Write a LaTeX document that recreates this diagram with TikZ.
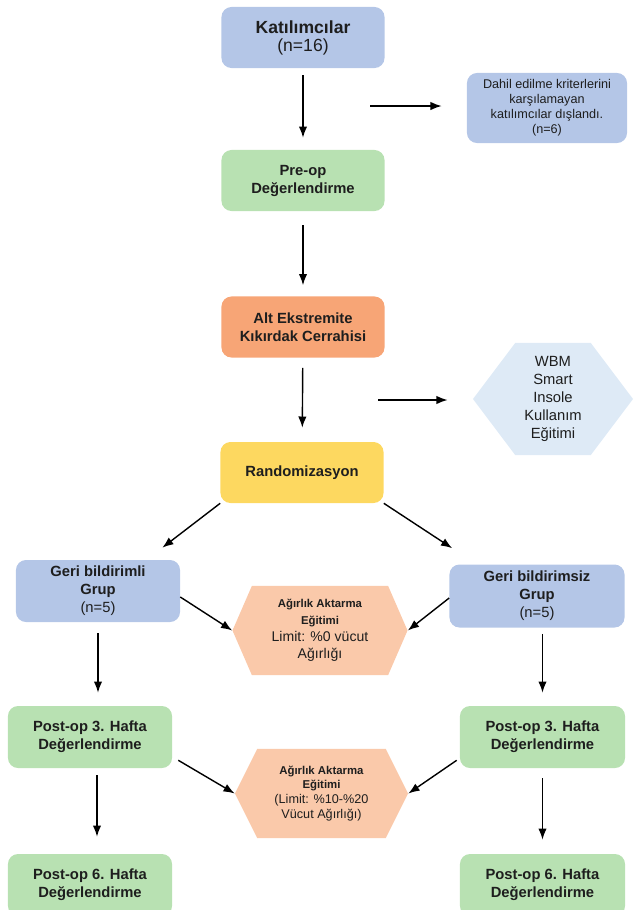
\documentclass[tikz,border=0pt]{standalone}
\usepackage{fontspec}
\setmainfont{Liberation Sans}
\usetikzlibrary{shapes.symbols,arrows.meta}

\definecolor{boxblue}{RGB}{180,198,231}
\definecolor{boxgreen}{RGB}{184,225,178}
\definecolor{boxorange}{RGB}{247,165,118}
\definecolor{boxyellow}{RGB}{253,216,96}
\definecolor{hexblue}{RGB}{222,234,246}
\definecolor{hexpeach}{RGB}{250,201,170}
\definecolor{txt}{RGB}{30,30,30}

\newcommand\fsbig{\fontsize{12.5}{16}\selectfont}
\newcommand\fsmid{\fontsize{10.5}{12.8}\selectfont}
\newcommand\fsreg{\fontsize{10}{12.2}\selectfont}
\newcommand\fsnote{\fontsize{9}{10.6}\selectfont}
\newcommand\fssmall{\fontsize{8.1}{10}\selectfont}

\tikzset{
  box/.style={rounded corners=0.25cm, align=center, text=txt, inner sep=0pt,
    minimum width=4.075cm, minimum height=1.525cm, font=\fsmid},
  hexbox/.style={shape=signal, signal to=east and west, align=center,
    text=txt, inner sep=0pt},
  arr/.style={-{Latex[length=0.28cm,width=0.21cm]}, line width=1pt, black},
}

\begin{document}
\begin{tikzpicture}[x=0.025cm,y=-0.025cm]
\useasboundingbox (0,0) rectangle (638,910);

% Katilimcilar
\node[box,fill=boxblue] (kat) at (303,37.5)
  {\fsbig\textbf{Katılımcılar}\\\fsbig(n=16)};
% Dahil edilme
\node[box,fill=boxblue,minimum width=4cm,minimum height=1.75cm,font=\fsnote] (dahil) at (547,108)
  {Dahil edilme kriterlerini\\karşılamayan\\katılımcılar dışlandı.\\(n=6)};
% Pre-op
\node[box,fill=boxgreen] (preop) at (303,180.5)
  {\textbf{Pre-op}\\\textbf{Değerlendirme}};
% Cerrahi
\node[box,fill=boxorange] (alt) at (303,327)
  {\textbf{Alt Ekstremite}\\\textbf{Kıkırdak Cerrahisi}};
% Randomizasyon
\node[box,fill=boxyellow] (rand) at (302,472.5) {\textbf{Randomizasyon}};
% WBM
\node[hexbox,fill=hexblue,minimum width=4cm,minimum height=2.8cm,
  signal pointer angle=106,font=\fsmid] (wbm) at (553,399)
  {WBM\\Smart\\Insole\\Kullanım\\Eğitimi};

% Gruplar
\node[box,fill=boxblue,minimum width=4.1cm,minimum height=1.55cm] (grpA) at (98,591)
  {\textbf{Geri bildirimli}\\\textbf{Grup}\\(n=5)};
\node[box,fill=boxblue,minimum width=4.375cm,minimum height=1.575cm] (grpB) at (537,596)
  {\textbf{Geri bildirimsiz}\\\textbf{Grup}\\(n=5)};

% Agirlik aktarma
\node[hexbox,fill=hexpeach,minimum width=4.375cm,minimum height=2.225cm,
  signal pointer angle=133,font=\fsreg] (hexA) at (320,630.5)
  {{\fssmall\textbf{Ağırlık Aktarma}}\\{\fssmall\textbf{Eğitimi}}\\Limit: \%0 vücut\\Ağırlığı};
\node[hexbox,fill=hexpeach,minimum width=4.325cm,minimum height=2.225cm,
  signal pointer angle=127,font=\fsnote] (hexB) at (321.5,793.5)
  {{\fssmall\textbf{Ağırlık Aktarma}}\\{\fssmall\textbf{Eğitimi}}\\(Limit: \%10-\%20\\Vücut Ağırlığı)};

% Post-op
\node[box,fill=boxgreen,minimum width=4.1cm,minimum height=1.55cm] (p3A) at (90,737)
  {\textbf{Post-op 3. Hafta}\\\textbf{Değerlendirme}};
\node[box,fill=boxgreen,minimum width=4.125cm,minimum height=1.55cm] (p3B) at (542.5,737)
  {\textbf{Post-op 3. Hafta}\\\textbf{Değerlendirme}};
\node[box,fill=boxgreen,minimum width=4.1cm,minimum height=1.55cm] (p6A) at (90,885)
  {\textbf{Post-op 6. Hafta}\\\textbf{Değerlendirme}};
\node[box,fill=boxgreen,minimum width=4.125cm,minimum height=1.55cm] (p6B) at (542.5,885)
  {\textbf{Post-op 6. Hafta}\\\textbf{Değerlendirme}};

\coordinate (exc) at (370,106);
\coordinate (trn) at (378,400);

% oklar
\draw[arr,shorten <=0.175cm,shorten >=0.3cm] (kat) -- (preop);
\draw[arr,shorten >=0.625cm] (exc) -- (exc -| dahil.west);
\draw[arr,shorten <=0.35cm,shorten >=0.275cm] (preop) -- (alt);
\draw[arr,shorten <=0.25cm,shorten >=0.35cm] (alt) -- (rand);
\draw[arr,shorten >=0.625cm] (trn) -- (trn -| wbm.west);

\draw[arr] (rand.south west) -- ([xshift=-0.45cm,yshift=0.3cm]grpA.north east);
\draw[arr] (rand.south east) -- ([xshift=0.075cm,yshift=0.4cm]grpB.north west);

\draw[arr] ([yshift=-0.15cm]grpA.east) -- (hexA.west);
\draw[arr] ([yshift=-0.05cm]grpB.west) -- (hexA.east);
\draw[arr,shorten <=0.275cm,shorten >=0.325cm] (grpA.south) -- (grpA.south |- p3A.north);
\draw[arr,shorten <=0.15cm,shorten >=0.325cm] (p3B.north |- grpB.south) -- (p3B.north);

\draw[arr] ([xshift=0.15cm,yshift=0.2cm]p3A.south east) -- (hexB.west);
\draw[arr] ([xshift=-0.075cm,yshift=0.2cm]p3B.south west) -- (hexB.east);
\draw[arr,shorten <=0.175cm,shorten >=0.425cm] ([xshift=0.175cm]p3A.south) -- ([xshift=0.175cm]p6A.north);
\draw[arr,shorten <=0.25cm,shorten >=0.35cm] (p3B.south) -- (p6B.north);

\end{tikzpicture}
\end{document}
